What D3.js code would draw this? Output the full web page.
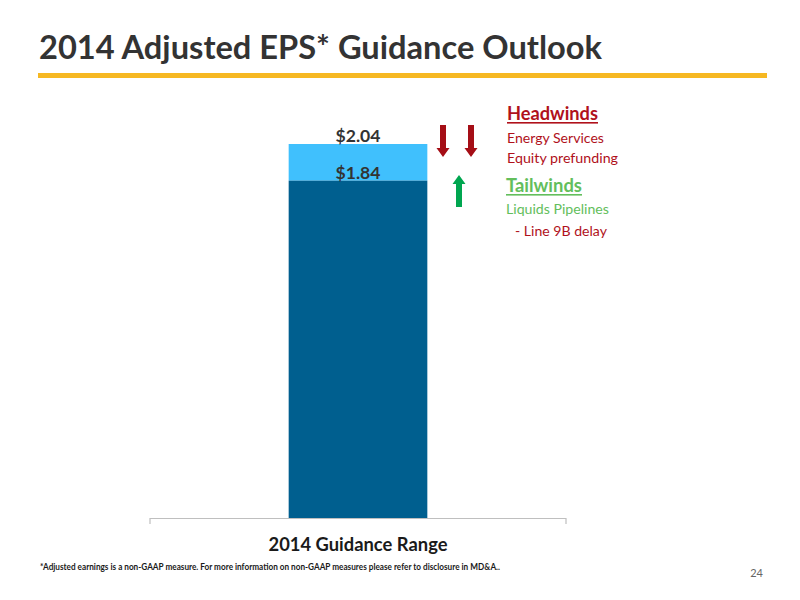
<!DOCTYPE html>
<html>
<head>
<meta charset="utf-8">
<script src="https://cdn.jsdelivr.net/npm/d3@7"></script>
<style>
  body { margin: 0; background: #fff; }
  svg { font-family: Lato, "Open Sans", sans-serif; }
</style>
</head>
<body>
<div id="chart"></div>
<script>
// chart data
const categories = ['2014 Guidance Range'];
const lowValues = [1.84];
const highValues = [2.04];
const valueLabels = ['$1.84', '$2.04'];
const headwinds = ['Energy Services', 'Equity prefunding'];
const tailwinds = ['Liquids Pipelines', '- Line 9B delay'];

const width = 800, height = 600;

const svg = d3.select('#chart').append('svg')
  .attr('width', width)
  .attr('height', height);

// fit a text element's font size to a target width
function fit(sel, target) {
  const node = sel.node();
  const size = parseFloat(sel.attr('font-size'));
  const len = node.getComputedTextLength();
  sel.attr('font-size', (size * target / len).toFixed(2));
  return sel;
}

// title + orange rule
fit(svg.append('text')
  .attr('x', 39).attr('y', 59)
  .attr('font-size', 30).attr('font-weight', 'bold')
  .attr('fill', '#333333')
  .text('2014 Adjusted EPS* Guidance Outlook'), 563);

svg.append('rect')
  .attr('x', 38).attr('y', 73)
  .attr('width', 729).attr('height', 5)
  .attr('fill', '#f6b822');

// scales
const x = d3.scaleBand().domain(categories).range([150, 566]).padding(0.5);
const y = d3.scaleLinear().domain([0, 2.04]).range([518, 144]);

// high (light) segment on top of low (dark) segment
svg.selectAll('.high').data(categories).enter().append('rect')
  .attr('x', d => x(d))
  .attr('y', (d, i) => y(highValues[i]))
  .attr('width', x.bandwidth())
  .attr('height', (d, i) => y(lowValues[i]) - y(highValues[i]))
  .attr('fill', '#40c0fd');

svg.selectAll('.low').data(categories).enter().append('rect')
  .attr('x', d => x(d))
  .attr('y', (d, i) => y(lowValues[i]))
  .attr('width', x.bandwidth())
  .attr('height', (d, i) => y(0) - y(lowValues[i]))
  .attr('fill', '#005f8f');

// value labels
const cx = x(categories[0]) + x.bandwidth() / 2;
[[highValues[0], valueLabels[1]], [lowValues[0], valueLabels[0]]].forEach(([v, t]) => {
  fit(svg.append('text')
    .attr('x', cx).attr('y', y(v) - 2)
    .attr('text-anchor', 'middle')
    .attr('font-size', 18).attr('font-weight', 'bold')
    .attr('fill', '#333333')
    .text(t), 45);
});

// axis
const axis = svg.append('g')
  .attr('transform', `translate(0,${y(0)})`)
  .call(d3.axisBottom(x).tickSize(0).tickFormat(''));
axis.select('.domain').remove();
axis.append('path')
  .attr('d', `M150,6V0.5H566V6`)
  .attr('fill', 'none')
  .attr('stroke', '#bfbfbf')
  .attr('stroke-width', 1.2);

fit(svg.append('text')
  .attr('x', cx).attr('y', 551)
  .attr('text-anchor', 'middle')
  .attr('font-size', 19).attr('font-weight', 'bold')
  .attr('fill', '#1a1a1a')
  .text(categories[0]), 179);

// arrows
function arrow(xc, y0, y1, color) {
  const dir = y1 > y0 ? 1 : -1;
  const headLen = 9, shaft = 3, head = 6.5;
  const yh = y1 - dir * headLen;
  svg.append('path')
    .attr('d', `M${xc - shaft},${y0}V${yh}H${xc - head}L${xc},${y1}L${xc + head},${yh}H${xc + shaft}V${y0}Z`)
    .attr('fill', color);
}
arrow(443, 125, 157, '#a50e16');
arrow(471, 125, 157, '#a50e16');
arrow(459, 207, 175, '#00a650');

// headwinds / tailwinds text
const red = '#b0111b', green = '#63be5c';
const hw = fit(svg.append('text')
  .attr('x', 507).attr('y', 120)
  .attr('font-size', 18).attr('font-weight', 'bold')
  .attr('fill', red).text('Headwinds'), 91);
svg.append('rect').attr('x', 507).attr('y', 122).attr('width', 91).attr('height', 1.6).attr('fill', red);

const hwY = [143, 163];
headwinds.forEach((t, i) => {
  fit(svg.append('text')
    .attr('x', 507).attr('y', hwY[i])
    .attr('font-size', 14).attr('fill', red).text(t), i === 0 ? 97 : 111);
});

fit(svg.append('text')
  .attr('x', 506).attr('y', 192)
  .attr('font-size', 18).attr('font-weight', 'bold')
  .attr('fill', green).text('Tailwinds'), 76);
svg.append('rect').attr('x', 506).attr('y', 194).attr('width', 76).attr('height', 1.6).attr('fill', green);

fit(svg.append('text')
  .attr('x', 506).attr('y', 214)
  .attr('font-size', 14).attr('fill', green).text(tailwinds[0]), 103);
fit(svg.append('text')
  .attr('x', 515).attr('y', 236)
  .attr('font-size', 14).attr('fill', red).text(tailwinds[1]), 92);

// footnote + page number
svg.append('text')
  .attr('x', 40).attr('y', 570)
  .attr('font-size', 9).attr('font-weight', 'bold')
  .attr('fill', '#1a1a1a')
  .attr('textLength', 460).attr('lengthAdjust', 'spacingAndGlyphs')
  .text('*Adjusted earnings is  a non-GAAP measure. For more information on non-GAAP measures please refer to disclosure in MD&A..');

svg.append('text')
  .attr('x', 763).attr('y', 577)
  .attr('text-anchor', 'end')
  .attr('font-size', 11).attr('fill', '#666666')
  .text('24');
</script>
</body>
</html>
